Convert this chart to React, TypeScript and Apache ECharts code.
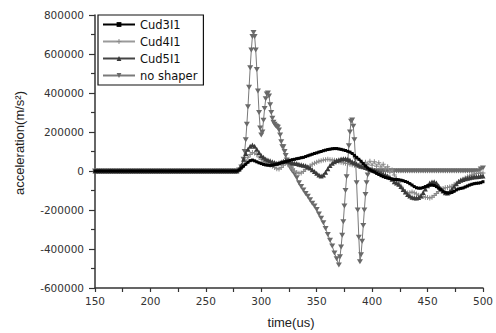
import React, { useEffect, useRef } from "react";
import * as echarts from "echarts";

// Flat, pre-motion segment (µs) shared by all series
const preTimes = [
  150, 152, 154, 156, 158, 160, 162, 164, 166, 168, 170, 172, 174,
  176, 178, 180, 182, 184, 186, 188, 190, 192, 194, 196, 198, 200,
  202, 204, 206, 208, 210, 212, 214, 216, 218, 220, 222, 224, 226,
  228, 230, 232, 234, 236, 238, 240, 242, 244, 246, 248, 250, 252,
  254, 256, 258, 260, 262, 264, 266, 268, 270, 272, 274, 276, 278,
];
const preValues = [
  0, 0, 0, 0, 0, 0, 0, 0, 0, 0, 0, 0, 0,
  0, 0, 0, 0, 0, 0, 0, 0, 0, 0, 0, 0, 0,
  0, 0, 0, 0, 0, 0, 0, 0, 0, 0, 0, 0, 0,
  0, 0, 0, 0, 0, 0, 0, 0, 0, 0, 0, 0, 0,
  0, 0, 0, 0, 0, 0, 0, 0, 0, 0, 0, 0, 0,
];

// Active segment times for the shaped series (µs)
const activeTimes = [
  280, 282, 284, 286, 288, 290, 292, 294, 296, 298,
  300, 302, 304, 306, 308, 310, 312, 314, 316, 318,
  320, 322, 324, 326, 328, 330, 332, 334, 336, 338,
  340, 342, 344, 346, 348, 350, 352, 354, 356, 358,
  360, 362, 364, 366, 368, 370, 372, 374, 376, 378,
  380, 382, 384, 386, 388, 390, 392, 394, 396, 398,
  400, 402, 404, 406, 408, 410, 412, 414, 416, 418,
  420, 422, 424, 426, 428, 430, 432, 434, 436, 438,
  440, 442, 444, 446, 448, 450, 452, 454, 456, 458,
  460, 462, 464, 466, 468, 470, 472, 474, 476, 478,
  480, 482, 484, 486, 488, 490, 492, 494, 496, 498,
  500,
];

// values in units of 1000 m/s²
const cud3I1 = [
  5, 15, 25, 35, 45, 53, 56, 52, 47, 42,
  38, 34, 31, 30, 29, 30, 32, 35, 38, 42,
  45, 48, 51, 55, 58, 60, 63, 65, 68, 70,
  74, 78, 82, 86, 90, 93, 97, 100, 104, 107,
  110, 112, 114, 115, 115, 113, 111, 108, 105, 101,
  97, 90, 80, 70, 60, 50, 38, 26, 15, 6,
  0, -5, -12, -18, -24, -29, -33, -36, -39, -41,
  -43, -44, -45, -47, -50, -54, -58, -65, -72, -80,
  -86, -88, -88, -85, -80, -76, -73, -72, -74, -80,
  -88, -96, -104, -110, -113, -113, -110, -104, -97, -92,
  -89, -87, -82, -77, -72, -68, -65, -63, -62, -60,
  -55,
];

const cud4I1 = [
  5, 15, 30, 50, 70, 85, 95, 92, 84, 72,
  60, 50, 42, 35, 30, 25, 18, 12, 10, 18,
  30, 42, 35, 22, 10, 0, -8, -12, -10, -2,
  8, 18, 26, 34, 40, 45, 50, 53, 56, 58,
  60, 58, 56, 55, 52, 48, 45, 42, 40, 38,
  35, 32, 30, 35, 25, 40, 28, 45, 32, 50,
  30, 48, 25, 42, 20, 35, 10, 22, -5, 5,
  -20, -40, -60, -78, -95, -106, -113, -112, -108, -112,
  -118, -124, -128, -131, -134, -136, -138, -134, -126, -116,
  -105, -96, -90, -86, -84, -82, -78, -70, -63, -55,
  -48, -42, -36, -30, -25, -20, -16, -13, -11, -10,
  -10,
];

const cud5I1 = [
  10, 30, 60, 90, 112, 127, 133, 127, 112, 95,
  80, 70, 62, 57, 52, 47, 43, 40, 42, 46,
  50, 52, 50, 46, 42, 40, 38, 35, 32, 30,
  27, 22, 15, 7, -2, -12, -20, -25, -20, -6,
  12, 28, 40, 48, 54, 58, 61, 63, 63, 60,
  55, 48, 42, 36, 30, 25, 22, 18, 14, 10,
  6, 2, -3, -8, -12, -16, -20, -25, -32, -42,
  -55, -62, -68, -80, -95, -108, -120, -128, -134, -137,
  -138, -136, -128, -110, -92, -75, -62, -56, -55, -62,
  -75, -90, -103, -111, -113, -105, -92, -78, -65, -54,
  -47, -43, -40, -37, -34, -32, -30, -29, -28, -26,
  -25,
];

const noShaperTimes = [
  280, 282, 284, 285, 286, 287, 288, 289, 290, 291,
  292, 293, 294, 295, 296, 297, 298, 299, 300, 301,
  302, 303, 304, 305, 306, 307, 308, 309, 310, 311,
  312, 313, 314, 315, 316, 317, 318, 319, 320, 321,
  322, 323, 324, 325, 326, 327, 328, 330, 332, 334,
  336, 338, 340, 342, 344, 346, 348, 350, 352, 354,
  356, 358, 360, 362, 364, 366, 368, 370, 371, 372,
  373, 374, 375, 376, 377, 378, 379, 380, 381, 382,
  383, 384, 385, 386, 387, 388, 389, 390, 391, 392,
  393, 394, 395, 396, 397, 398,
  400, 402, 404, 406, 408, 410, 412, 414, 416, 418,
  420, 422, 424, 426, 428, 430, 432, 434, 436, 438,
  440, 442, 444, 446, 448, 450, 452, 454, 456, 458,
  460, 462, 464, 466, 468, 470, 472, 474, 476, 478,
  480, 482, 484, 486, 488, 490, 492, 494, 496, 498,
  500,
];
const noShaper = [
  5, 20, 60, 100, 160, 240, 330, 430, 530, 620,
  690, 710, 690, 620, 520, 410, 300, 220, 185, 200,
  260, 320, 370, 395, 400, 385, 340, 300, 270, 250,
  240, 232, 228, 225, 210, 185, 150, 125, 125, 100,
  80, 56, 40, 30, 20, 10, 0, -15, -35, -60,
  -80, -97, -115, -130, -148, -165, -180, -198, -220, -242,
  -266, -295, -325, -355, -385, -420, -450, -482, -440, -390,
  -330, -260, -180, -100, -30, 50, 130, 200, 255, 262,
  230, 160, 60, -60, -200, -340, -465, -430, -360, -280,
  -200, -120, -60, -20, 0, 5,
  0, 0, 0, 0, 0, 0, 0, 0, 0, 0,
  0, 0, 0, 0, 0, 0, 0, 0, 0, 0,
  0, 0, 0, 0, 0, 0, 0, 0, 0, 0,
  0, 0, 0, 0, 0, 0, 0, 0, 0, 0,
  0, 0, 0, 0, 0, 0, 0, 0, 0, 10,
  15,
];

const seriesNames = ["Cud3I1", "Cud4I1", "Cud5I1", "no shaper"];
const xTicks = { min: 150, max: 500, interval: 50 };
const yTicks = { min: -600000, max: 800000, interval: 200000 };

const build = (times: number[], vals: number[]) => [
  ...preTimes.map((t, i) => [t, preValues[i]]),
  ...times.map((t, i) => [t, vals[i] * 1000]),
];

const PLUS = "path://M4,0H6V4H10V6H6V10H4V6H0V4H4Z";
const DOWN_TRI = "path://M0,0L10,0L5,9Z";

export default function App() {
  const ref = useRef<HTMLDivElement>(null);
  useEffect(() => {
    if (!ref.current) return;
    const chart = echarts.init(ref.current, null, { renderer: "svg" });
    const font = "'DejaVu Sans', 'Liberation Sans', Arial, sans-serif";
    chart.setOption({
      animation: false,
      backgroundColor: "#fff",
      grid: { left: 95, right: 9, top: 15, bottom: 45 },
      legend: {
        data: seriesNames,
        orient: "vertical",
        left: 98,
        top: 15,
        padding: [3, 6, 3, 4],
        itemGap: 4,
        itemWidth: 32,
        itemHeight: 6,
        borderColor: "#111",
        borderWidth: 1.2,
        backgroundColor: "#fff",
        textStyle: { fontFamily: font, fontSize: 11.5, color: "#111", lineHeight: 13 },
      },
      xAxis: {
        type: "value",
        min: xTicks.min,
        max: xTicks.max,
        interval: xTicks.interval,
        splitLine: { show: false },
        axisLine: { onZero: false, lineStyle: { color: "#333", width: 1.5 } },
        axisTick: { length: 4, lineStyle: { color: "#333", width: 1.2 } },
        minorTick: { show: true, splitNumber: 2, length: 4, lineStyle: { color: "#333", width: 1.2 } },
        axisLabel: { fontFamily: font, fontSize: 10.5, color: "#333", margin: 7 },
      },
      yAxis: {
        type: "value",
        min: yTicks.min,
        max: yTicks.max,
        interval: yTicks.interval,
        splitLine: { show: false },
        axisLine: { onZero: false, lineStyle: { color: "#333", width: 1.5 } },
        axisTick: { length: 6, lineStyle: { color: "#333", width: 1.2 } },
        minorTick: { show: true, splitNumber: 2, length: 4, lineStyle: { color: "#333", width: 1.2 } },
        axisLabel: {
          fontFamily: font,
          fontSize: 10.5,
          color: "#333",
          margin: 11,
          formatter: (v: number) => String(v),
        },
      },
      graphic: [
        {
          type: "text",
          x: 19,
          y: 143,
          rotation: Math.PI / 2,
          style: {
            text: "acceleration(m/s²)",
            font: "13px 'Liberation Sans', Arial, sans-serif",
            fill: "#222",
            textAlign: "center",
            textVerticalAlign: "middle",
          },
        },
        {
          type: "text",
          x: 291,
          y: 322,
          style: {
            text: "time(us)",
            font: "13px 'Liberation Sans', Arial, sans-serif",
            fill: "#222",
            textAlign: "center",
            textVerticalAlign: "middle",
          },
        },
      ],
      series: [
        {
          name: "no shaper",
          type: "line",
          z: 2,
          data: build(noShaperTimes, noShaper),
          symbol: DOWN_TRI,
          symbolSize: [6, 5],
          lineStyle: { color: "#7a7a7a", width: 1 },
          itemStyle: { color: "#6a6a6a" },
        },
        {
          name: "Cud4I1",
          type: "line",
          z: 3,
          data: build(activeTimes, cud4I1),
          symbol: PLUS,
          symbolSize: 5,
          lineStyle: { color: "#9a9a9a", width: 1 },
          itemStyle: { color: "#8a8a8a" },
        },
        {
          name: "Cud5I1",
          type: "line",
          z: 4,
          data: build(activeTimes, cud5I1),
          symbol: "triangle",
          symbolSize: 5,
          lineStyle: { color: "#444", width: 1 },
          itemStyle: { color: "#3a3a3a" },
        },
        {
          name: "Cud3I1",
          type: "line",
          z: 5,
          data: build(activeTimes, cud3I1),
          symbol: "rect",
          symbolSize: 3,
          lineStyle: { color: "#000", width: 2 },
          itemStyle: { color: "#000" },
        },
      ],
    });
    return () => chart.dispose();
  }, []);
  return (
    <div
      ref={ref}
      style={{ position: "fixed", left: 0, top: 0, width: 496, height: 333 }}
    />
  );
}
